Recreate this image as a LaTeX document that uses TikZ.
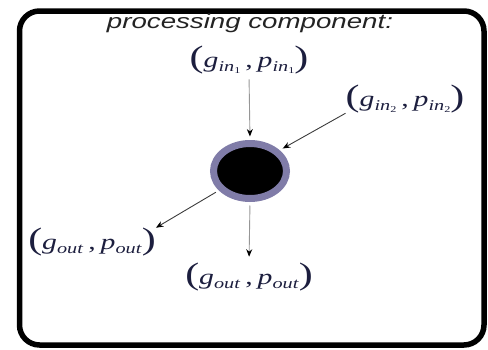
\documentclass[tikz,border=0pt]{standalone}
\usepackage{fontspec}
\setmainfont{Liberation Serif}
\newfontfamily\titlefont{Liberation Sans}
\usetikzlibrary{arrows.meta,shapes.geometric}
\definecolor{labcol}{RGB}{28,30,62}
\definecolor{ringcol}{RGB}{128,124,168}
\newcommand\sx[1]{\scalebox{1.35}[1]{#1}}
\newcommand\subt[1]{\raisebox{-4.5pt}{\fontsize{15}{15}\selectfont\textit{#1}}}
\newcommand\subin[1]{\raisebox{-4.5pt}{\fontsize{15}{15}\selectfont\textit{in}\raisebox{-2pt}{\fontsize{9}{9}\selectfont #1}}}
\newcommand\bigp[1]{{\fontsize{31}{31}\selectfont #1}}
\newcommand\lbl[2]{\sx{\bigp{(}\textit{g}#1\,,\,\textit{p}#2\bigp{)}}}
\begin{document}
\begin{tikzpicture}[x=1pt,y=-1pt,
  lab/.style={inner sep=0pt,text=labcol,font=\fontsize{22}{22}\selectfont},
  arr/.style={line width=0.9pt,-{Stealth[length=7.5pt,width=6pt,color=black]}},
  lightarr/.style={arr,draw={rgb,255:red,150;green,150;blue,150}},
  darkarr/.style={arr,draw={rgb,255:red,60;green,60;blue,60}}]
\useasboundingbox (0,0) rectangle (488,349);
\draw[line width=5.5pt,rounded corners=20pt] (19.5,11) rectangle (484,345);
\node[inner sep=0pt,anchor=base,text={rgb,255:red,35;green,35;blue,35}] (title) at (250,28.5)
  {\sx{\titlefont\itshape\fontsize{20.5}{20.5}\selectfont processing component:}};
\node[lab] (in1) at (249,60) {\lbl{\subin{1}}{\subin{1}}};
\node[lab] (in2) at (405,99) {\lbl{\subin{2}}{\subin{2}}};
\node[lab] (outL) at (92,242) {\lbl{\subt{out}}{\subt{out}}};
\node[lab] (outB) at (249,277) {\lbl{\subt{out}}{\subt{out}}};
\node[ellipse,draw=ringcol,line width=7pt,fill=black,minimum width=73pt,minimum height=55pt,inner sep=0pt] (proc) at (250,171) {};
\draw[lightarr,shorten <=5pt,shorten >=3.5pt] (in1.south) -- (proc.north);
\draw[darkarr,shorten >=3.5pt] (in2.south west) -- (proc.35);
\draw[darkarr,shorten <=3.5pt] (proc.212) -- (outL.north east);
\draw[lightarr,shorten <=3.5pt,shorten >=6pt] (proc.south) -- (outB.north);
\end{tikzpicture}
\end{document}
